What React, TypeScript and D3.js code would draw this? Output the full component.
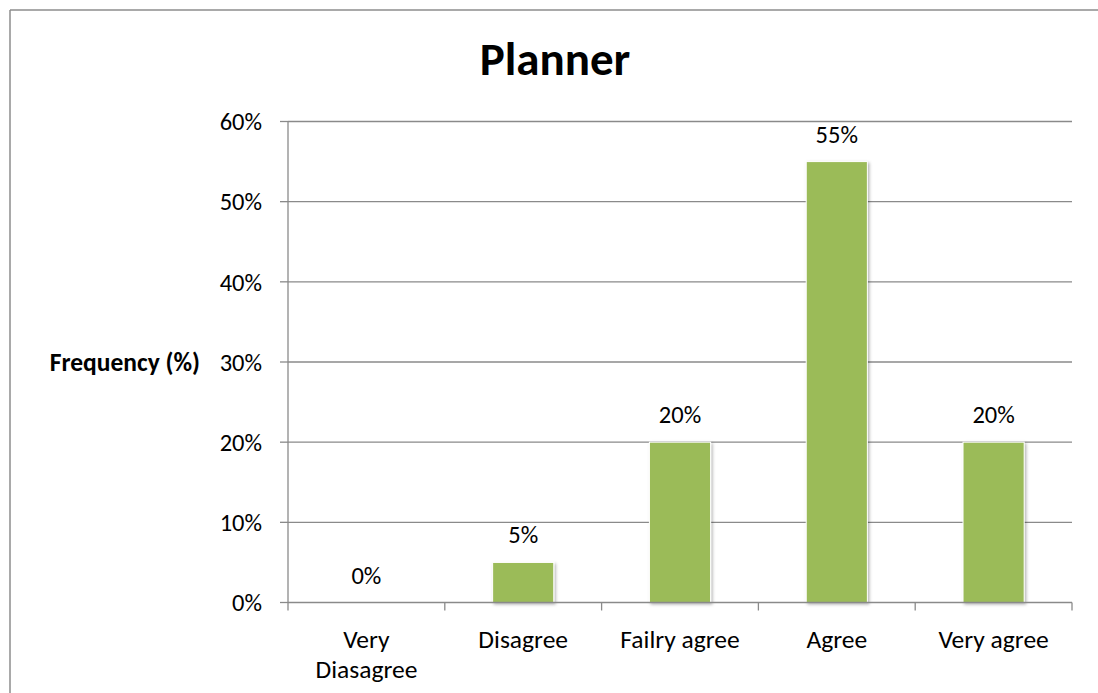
import React from "react";
import * as d3 from "d3";

const categories: string[][] = [["Very", "Diasagree"], ["Disagree"], ["Failry agree"], ["Agree"], ["Very agree"]];
const values: number[] = [0, 0.05, 0.2, 0.55, 0.2];
const yTicks: number[] = [0, 0.1, 0.2, 0.3, 0.4, 0.5, 0.6];
const title = "Planner";
const yAxisTitle = "Frequency (%)";

const W = 1098;
const H = 693;
const FONT = "Carlito, Calibri, Lato, sans-serif";

export default function App() {
  const keys = categories.map((c) => c.join(" "));
  const x = d3.scaleBand<string>().domain(keys).range([288, 1072]).paddingInner(0.61).paddingOuter(0.305);
  const y = d3.scaleLinear().domain([0, 0.6]).range([602.5, 121.5]);
  const fmt = d3.format(".0%");
  const grid = "#8a8a8a";
  const step = x.step();

  return (
    <div style={{ position: "absolute", left: 0, top: 0 }}>
      <svg width={W} height={H} style={{ display: "block", background: "#fff" }}>
        <defs>
          <filter id="sh" x="-20%" y="-20%" width="140%" height="140%">
            <feDropShadow dx="1.5" dy="1.5" stdDeviation="1.5" floodColor="#000" floodOpacity="0.3" />
          </filter>
        </defs>
        {/* chart border (top and left visible) */}
        <line x1={10} x2={W} y1={10} y2={10} stroke="#8c8c8c" strokeWidth={1.5} />
        <line x1={10} x2={10} y1={10} y2={H} stroke="#8c8c8c" strokeWidth={1.5} />
        <text x={555} y={75} textAnchor="middle" fontFamily={FONT} fontWeight="bold" fontSize={47} fill="#000">
          {title}
        </text>
        {/* gridlines */}
        {yTicks.map((t) => (
          <g key={t}>
            {t > 0 && <line x1={288} x2={1072} y1={y(t)} y2={y(t)} stroke={grid} strokeWidth={1.3} />}
            <line x1={280} x2={288} y1={y(t)} y2={y(t)} stroke={grid} strokeWidth={1.3} />
            <text x={262} y={y(t)} dy="0.36em" textAnchor="end" fontFamily={FONT} fontSize={24.5} fill="#000">
              {fmt(t)}
            </text>
          </g>
        ))}
        <line x1={288} x2={288} y1={y(0.6)} y2={y(0)} stroke={grid} strokeWidth={1.3} />
        <text x={200} y={371} textAnchor="end" fontFamily={FONT} fontWeight="bold" fontSize={25.5} fill="#000">
          {yAxisTitle}
        </text>
        {/* bars */}
        {values.map((v, i) => {
          const k = keys[i];
          const bx = x(k)!;
          return (
            <g key={k}>
              {v > 0 && (
                <rect
                  x={bx}
                  y={y(v)}
                  width={x.bandwidth()}
                  height={y(0) - y(v)}
                  fill="#9bbb59"
                  stroke="#ffffff"
                  strokeWidth={1}
                  filter="url(#sh)"
                />
              )}
              <text x={bx + x.bandwidth() / 2} y={y(v) - 19} textAnchor="middle" fontFamily={FONT} fontSize={24.5} fill="#000">
                {fmt(v)}
              </text>
            </g>
          );
        })}
        {/* x axis */}
        <line x1={288} x2={1072} y1={y(0)} y2={y(0)} stroke={grid} strokeWidth={1.3} />
        {d3.range(keys.length + 1).map((i) => {
          const tx = 288 + i * step;
          return <line key={i} x1={tx} x2={tx} y1={y(0)} y2={y(0) + 8} stroke={grid} strokeWidth={1.3} />;
        })}
        {categories.map((lines, i) => {
          const cx = x(keys[i])! + x.bandwidth() / 2;
          return (
            <text key={i} textAnchor="middle" fontFamily={FONT} fontSize={25.5} fill="#000">
              {lines.map((l, j) => (
                <tspan key={j} x={cx} y={648 + j * 30}>
                  {l}
                </tspan>
              ))}
            </text>
          );
        })}
      </svg>
    </div>
  );
}
